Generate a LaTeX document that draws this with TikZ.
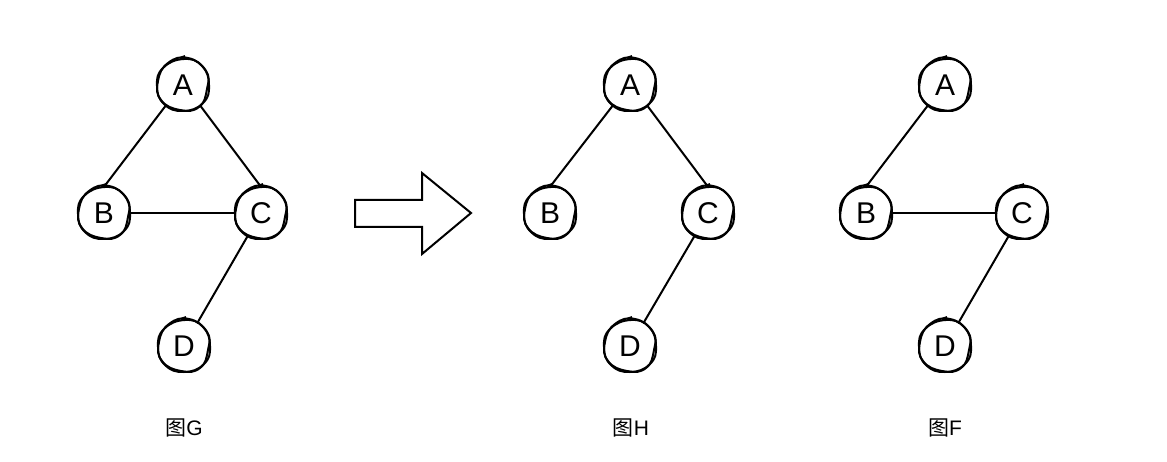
\documentclass[tikz,border=0pt]{standalone}
\usepackage{fontspec}
\setmainfont{Liberation Sans}
\newfontfamily\cjk{Noto Sans CJK SC}
\begin{document}
\begin{tikzpicture}[x=1pt,y=-1pt,
  vtx/.style={circle,minimum size=52pt,inner sep=0pt,font=\fontsize{30}{32}\selectfont},
  sk/.style={line width=2pt,line join=round},
  edge/.style={line width=2pt},
  captxt/.style={font=\fontsize{21}{23}\selectfont}]
\useasboundingbox (0,0) rectangle (1167,462);
\newcommand{\skc}[1]{%
  \begin{scope}[shift={(#1.center)}]
  \draw[sk] plot[smooth cycle,tension=0.8] coordinates {(26,0) (20,18) (0,26) (-19,19) (-26,1) (-20,-17) (1,-26) (19,-19)};
  \draw[sk] plot[smooth cycle,tension=0.8] coordinates {(24,4) (16,22) (-3,25) (-22,15) (-25,-4) (-15,-22) (5,-27) (23,-14)};
  \draw[sk] (-3,-27) -- (2,-29);
  \end{scope}}
% Graph G
\node[vtx] (GA) at (183,85) {A};
\node[vtx] (GB) at (104,213) {B};
\node[vtx] (GC) at (261,213) {C};
\node[vtx] (GD) at (184,346) {D};
\foreach \n in {GA,GB,GC,GD} {\skc{\n}}
\draw[edge] (GA.230) -- (GB.north);
\draw[edge] (GA.310) -- (GC.north);
\draw[edge] (GB) -- (GC);
\draw[edge] (GC) -- (GD);
\node[captxt] (capG) at (184,428) {{\cjk 图}G};
% Arrow
\draw[line width=2pt,line join=miter] (355,200) -- (422,200) -- (422,173) -- (471,213) -- (422,254) -- (422,227) -- (355,227) -- cycle;
% Graph H
\node[vtx] (HA) at (630,85) {A};
\node[vtx] (HB) at (550,213) {B};
\node[vtx] (HC) at (708,213) {C};
\node[vtx] (HD) at (630,346) {D};
\foreach \n in {HA,HB,HC,HD} {\skc{\n}}
\draw[edge] (HA.230) -- (HB.north);
\draw[edge] (HA.310) -- (HC.north);
\draw[edge] (HC) -- (HD);
\node[captxt] (capH) at (631,428) {{\cjk 图}H};
% Graph F
\node[vtx] (FA) at (945,85) {A};
\node[vtx] (FB) at (866,213) {B};
\node[vtx] (FC) at (1022,213) {C};
\node[vtx] (FD) at (945,346) {D};
\foreach \n in {FA,FB,FC,FD} {\skc{\n}}
\draw[edge] (FA.230) -- (FB.north);
\draw[edge] (FB) -- (FC);
\draw[edge] (FC) -- (FD);
\node[captxt] (capF) at (945,428) {{\cjk 图}F};
\end{tikzpicture}
\end{document}
